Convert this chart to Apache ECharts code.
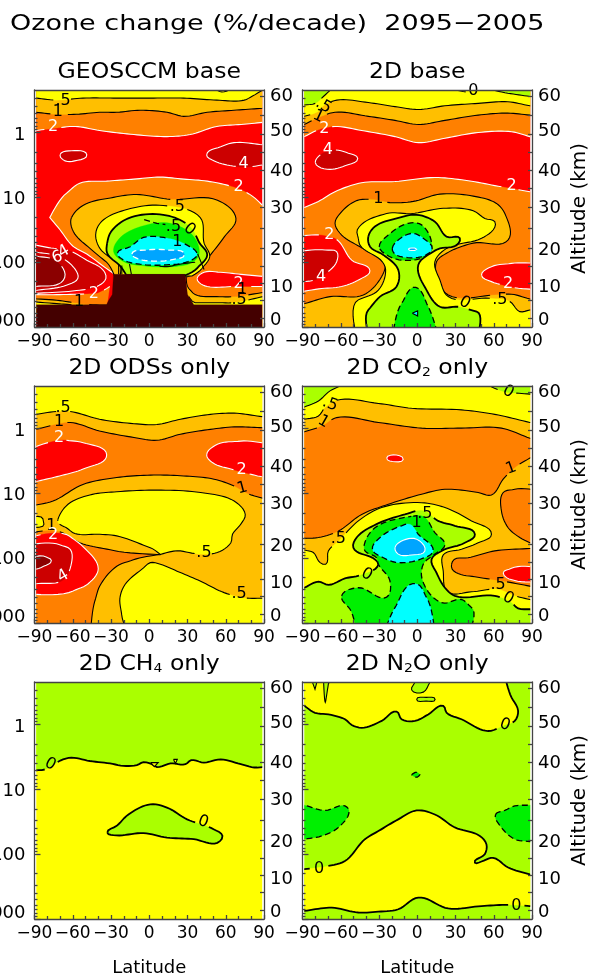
<!DOCTYPE html>
<html><head><meta charset="utf-8">
<style>html,body{margin:0;padding:0;background:#fff}#c{width:590px;height:973px}</style>
<script src="https://cdn.jsdelivr.net/npm/echarts@6/dist/echarts.min.js"></script>
</head><body><div id="c"></div>
<script>
// All contour vertices are [latitude, log-pressure height z in km]; a third element 1 marks a sharp vertex.
const COLORS={m:'#440000',x:'#8b0000',d:'#cc0000',r:'#ff0000',o:'#ff8000',a:'#ffbf00',y:'#ffff00',l:'#aaff00',g:'#00f000',c:'#00ffff',b:'#00a5ff'};
const TL=[-94,61,1],TR=[94,61,1],BL=[-94,-3,1],BR=[94,-3,1];
const LAT_TICKS=[-90,-60,-30,0,30,60,90];
const PRESSURE_LABELS=[1,10,100,1000];
const PRESSURE_LABEL_Z=[47.2,31.4,15.6,1.5];
const PRESSURE_MAJOR_Z=[48,32,16,0];
const PRESSURE_MINOR_Z=[56.4,54.4,52.8,51.5,50.5,49.5,48.7,43.2,40.4,38.4,36.8,35.5,34.4,33.5,32.7,27.2,24.4,22.4,20.8,19.5,18.4,17.5,16.7,11.2,8.4,6.4,4.8,3.5,2.4,1.5,0.7];
const KM_LABELS=[60,50,40,30,20,10,0];
const KM_LABEL_Z=[57,48.4,38.5,29.4,19,9.9,1.7];
const KM_TICK_Z=[56.9,52.3,47.7,43.2,38.8,34.3,29.6,24.4,19.5,15,10.9,6.7,2.2];

// Panel A: GEOSCCM base
const a2top=[[-89,48.5],[-75.5,49],[-58,49.5],[-39,48.5],[-12,47.5],[14,47],[32,47.5],[53,49.5],[72,50],[89,50.5]];
const a1top=[[-89,53],[-73,52.5],[-57,52.5],[-39,53],[-25.5,53],[-7,53.5],[14,53],[27,52],[45.5,53],[66.5,53.5],[89,54]];
const a5top=[[-89,56.5],[-73,56],[-52,56.5],[-25.5,56.5],[1,56.5],[27,56.5],[53,56],[74.5,56],[81,57],[89,58.5]];
const a4L=[[-70,42.5],[-61,43.5],[-49,42.5],[-58.5,41],[-66,41]];
const a4R=[[45,42.5],[56,44.5],[66.5,45.5],[89,45],[94,45,1],[94,40,1],[89,40],[77,39.5],[61,40],[51,41]];
const a2mid=[[94,30,1],[89,30],[80,32.5],[66.5,34.5],[45.5,36],[27,36.5],[8.5,37],[-12,36.5],[-33.5,36],[-54.5,35.5],[-65,33],[-78,27,1],[-70,24],[-60,20],[-49,18],[-36,15],[-27,13,1]];
const a1R=[[29,12.5,1],[31,9.5],[36,8],[53,7.5],[66.5,7.5],[89,8.5],[94,8.5,1]];
const a5R=[[31,7.5,1],[36,6],[53,6],[66.5,6],[89,7.5],[94,7.5,1]];
const a2R=[[37.5,12],[43,13.5],[56,13.5],[72,13],[89,12.5],[94,12.5,1],[94,10,1],[89,10],[66.5,10],[45.5,10],[39,11]];
const aLow4=[[-94,20.2,1],[-89,20.2],[-77,19.5],[-64,19],[-49,16.5],[-36,14],[-34,12],[-41,10],[-57,9],[-89,8.3],[-94,8.3,1]];
const aLow6=[[-94,17.5,1],[-89,17.5],[-74,16.5],[-66,13],[-69,11],[-89,10],[-94,10,1]];
const aLow5=[[-94,18.5,1],[-89,18.5],[-70,17.3],[-57,13.7],[-56,12],[-65,10.3],[-89,9],[-94,9,1]];
const a2L=[[-94,8,1],[-70,8],[-43,8.2],[-31,10,1]];
const a1L=[[-94,7,1],[-70,6.5],[-52,5.7],[-33,5.4,1]];
const a5L=[[-94,6.3,1],[-70,5.7],[-52,5.3,1]];
const aAmber=[[-61,27],[-52,30],[-28,32],[-10,32.7],[16.5,31.5],[53.5,31.3],[68,26.8],[59,22.3],[47,17.4],[37.6,13.7],[30,12.4,1],[-27,12.4,1],[-33.5,16],[-46.5,19.4],[-58.5,23],[-61.5,25.4]];
const aYellow=[[-42,23],[-37.5,26],[-17.5,29],[11,30],[40,27],[43,20.7],[47.5,17.4],[41.5,14.5],[33.5,12.6,1],[-23,12.6,1],[-23.5,15.7],[-38.7,19.4]];
const aLime=[[-33,20.7],[-30,23.5],[-16.5,26.8],[11,27.7],[32,24.8],[39.5,20.7],[45.5,17.8],[37.5,14.5],[28.5,12.8,1],[-18,12.8,1],[-23.5,15.3],[-33,18.2]];
const aGreen=[[-28,18.6],[-23,22],[-4.5,25],[16.5,25.6],[35,22.3],[39,17.8],[33.5,15.9],[19,14.9],[-4.5,15.1],[-20,16.1]];
const aCyan=[[-25,18.2],[-15,19.8],[-4.5,22.1],[11.3,22.1],[29.7,20.2],[37.6,17.9],[32.4,16.4],[11.3,15.3],[-9.7,15.6],[-20,16.5]];
const aBlue=[[-13.7,18],[-1.8,19],[14,19],[27.6,17.9],[19.2,16.7],[0.8,16.3],[-9.2,16.9]];
const aTerrain=[[-94,5.5,1],[-33.5,5.5,1],[-32,6.5,1],[-29,8,1],[-28,13,1],[28,13,1],[30,8,1],[33,6.5,1],[35,5.5,1],[94,5.5,1],BR,BL];
const aOrange=[...a2mid,[29,12.5,1],[31,9.5],[36,8],[53,7.5],[66.5,7.5],[89,8.5],[94,8.5,1]];
const panelA=[
 {c:'r',p:[BL,BR,TR,TL]},
 {c:'o',s:'w',p:[...a2top,TR,TL]},{c:'a',s:'k',p:[...a1top,TR,TL]},{c:'y',s:'k',p:[...a5top,TR,TL]},
 {s:'k',open:1,p:[[52,58.6],[57,58],[64,58.6]]},
 {c:'d',s:'w',p:a4L},{c:'d',s:'w',p:a4R},
 {c:'o',p:aOrange},{s:'w',open:1,p:a2mid},
 {c:'a',p:[...a1R,BR,[29,-3,1]]},{s:'k',open:1,p:a1R},
 {c:'y',p:[...a5R,BR,[31,-3,1]]},{s:'k',open:1,p:a5R},
 {c:'r',s:'w',p:a2R},
 {c:'o',p:[...a2L,[-33,5.4,1],...a1L.slice(0,3).reverse()]},{s:'w',open:1,p:a2L},
 {c:'a',p:[...a1L,...a5L.slice().reverse()]},{s:'k',open:1,p:a1L},
 {c:'y',p:[...a5L,[-52,3,1],[-94,3,1]]},{s:'k',open:1,p:a5L},
 {c:'d',s:'w',p:aLow4},{s:'w',p:aLow5},{c:'x',s:'w',p:aLow6},
 {c:'a',s:'k',p:aAmber},{c:'y',s:'k',p:aYellow},{c:'l',s:'K',p:aLime},{c:'g',p:aGreen},
 {c:'c',s:'d',p:aCyan},{c:'b',s:'W',p:aBlue},
 {s:'d',open:1,p:[[-4,26.5],[6,25.6],[17,25],[30,22.8]]},
 {s:'k',open:1,p:[[-24,15.4],[-24,13]]},{s:'k',open:1,p:[[-21.5,15.2],[-21.5,13]]},{s:'k',open:1,p:[[-15.5,15.5],[-14,13]]},
 {s:'k',open:1,p:[[8,15],[14,14.9],[24,15.5],[36,16]]},{s:'k',open:1,p:[[38,18],[43,14.2]]},
 {c:'m',p:aTerrain}
];
const labelsA=[[-67.6,55.9,'.5','k'],[-71.6,53,'1','k'],[-75.5,49.3,'2','w'],[74,40.2,'4','w'],[70,34.5,'2','w'],[22,29.7,'.5','k'],[19,24.6,'.5','k'],[31.6,24.1,'0','k',-40],[22,21,'1','k'],[-72,17.2,'6','w',20],[-67,18.6,'4','w',30],[-43.4,8.3,'2','w'],[-55,6.3,'1','k'],[70,10.6,'2','w'],[73,9.1,'1','k'],[70.5,6.8,'.5','k']];

// Panel B: 2D base
const bLimeTL=[[-88.5,54.8],[-80,55.2],[-73.6,56.9],[-68.4,58.4],[-66,59,1],TL,[-94,54.8,1]];
const bLimeTR=[[59.5,58.5,1],[71,57.7],[88.3,56.9],[94,56.9,1],TR];
const bHalfTop=[[-94,52,1],[-88.5,52],[-77.5,53.2],[-73.6,54.6],[-63,56],[-38.4,55.4],[-17.5,54.4],[1,53.7],[21.7,54.6],[47.8,55.2],[71,55.6],[88.3,54.6],[94,54.6,1]];
const bOneTop=[[-94,50,1],[-88.5,50],[-79,51.5],[-64.5,53],[-38.4,52],[-17.5,51],[1,50],[21.7,51],[47.8,52.3],[71,52.8],[88.3,52.3],[94,52.3,1]];
const bTwoTop=[[-94,47,1],[-88.5,47],[-77.5,48.7],[-64.5,49.5],[-43.6,48.5],[-17.5,47],[1,45.5],[21.7,46.6],[47.8,48],[74,48.2],[88.3,47],[94,47,1]];
const b4Top=[[-80,40.6],[-76,42.5],[-65.8,43.7],[-54,42.9],[-46.7,41.6],[-56.7,39.8],[-68.4,38.9],[-77.5,39.6]];
const bTwoMid=[[-94,29.5,1],[-88.5,29.5],[-77.5,31],[-64.5,33.4],[-43.6,35.6],[-17.5,35.9],[13.8,36.9],[40,36.1],[66,34.6],[88.3,33.4],[94,33.4,1]];
const bAmber=[[-94,5.8,1],[-88,5.8],[-68.4,7.5],[-42.3,7.9],[-28,12.4],[-25.3,15.7],[-29.2,17],[-44.9,19.8],[-59.3,22.7],[-64.5,25.6],[-60.6,28],[-47.5,31.2],[-35.8,31.5],[-21.4,30.7],[-3.1,31],[17.8,32.8],[43.9,32.3],[62.1,30.5],[68.7,28],[71.3,21.5],[43.9,20.7],[23,18.2],[15.1,16.1],[16.4,11.6],[24.3,7.9],[60.8,7.9],[73.9,8.1],[88.3,6.9],[94,6.9,1],BR,BL];
const bYellow=[[-46.2,21.9],[-47,24],[-24,28],[-4.4,28],[20.4,29.3],[43.9,28.7],[53,26.8],[60.8,26],[60.8,24.6],[50.4,21.9],[23,19.4],[13.8,16.1],[17.8,11.6],[24.3,7.5],[56.9,7.1],[72.6,6.3],[80.4,3.8],[88.3,4.2],[94,4.2,1],BR,[-46.7,-3,1],[-46.2,6.7],[-30.5,9.1],[-24.8,14.1],[-27.4,16.1],[-44.9,20.2]];
const bRedR=[[50.4,12.8],[58.2,14.9],[73.9,15.7],[94,15.7,1],[94,9.3,1],[71.3,10],[58.2,11.2]];
const bRedL=[[-94,22.3,1],[-72.3,22.5],[-63.2,21.6],[-51.4,16.5],[-37.1,13.9],[-44.9,11.8],[-59.3,10],[-74.9,9.5],[-94,8.5,1]];
const bDarkL=[[-94,18.6,1],[-72.3,19],[-63.2,18.6],[-63.2,16.1],[-69.7,13.7],[-77.5,12],[-94,11.2,1]];
const bLime=[[-38.4,22.3],[-33.2,24.8],[-16.2,26.8],[-0.5,27.7],[13.8,26],[23,22.3],[33.4,21.9],[30.8,20.2],[17.8,19.4],[12.5,18.6],[0.8,15.3],[7.3,9.1],[17.8,5],[32.1,5],[46.5,3.8],[46.5,-3,1],[-37,-3,1],[-38.4,4.2],[-29.2,7.5],[-16.2,10],[-14.9,14.1],[-26.6,17.8],[-37,19.8]];
const bGreen=[[-29.8,19.8],[-22.7,22.7],[-7,25.6],[3.4,25.2],[11.2,19.4],[6,17.4],[-12.3,16.5],[-24,17.8]];
const bCyan=[[-19.6,19.4],[-12.3,22.1],[-3.1,23.1],[4.7,21.9],[11.7,19.4],[4.7,17.5],[-9.7,17.2],[-17.5,18]];
const bBlue=[[-7,19.2],[-4.4,19.5],[-0.5,19.2],[-4.4,18.9]];
const bGreenLow=[[-19.3,-3,1],[-12.3,5.8],[-3.1,9.8],[0.8,9.5],[8.6,5],[17,-3,1]];
const bCyanLow=[[-3.9,3.4,1],[0.3,4,1],[0.3,2.7,1]];
const panelB=[
 {c:'r',p:[BL,BR,TR,TL]},
 {c:'o',s:'w',p:[...bTwoTop,TR,TL]},{c:'a',s:'k',p:[...bOneTop,TR,TL]},{c:'y',s:'k',p:[...bHalfTop,TR,TL]},
 {c:'l',s:'k',p:bLimeTL},{c:'l',s:'k',p:bLimeTR},{s:'k',open:1,p:[[28,58.6],[40,58],[48,58.2]]},
 {c:'d',s:'w',p:b4Top},
 {c:'o',s:'w',p:[...bTwoMid,BR,BL]},
 {c:'a',s:'k',p:bAmber},{c:'y',s:'k',p:bYellow},
 {c:'r',s:'w',p:bRedR},{c:'r',s:'w',p:bRedL},{c:'d',s:'w',p:bDarkL},
 {c:'l',s:'K',p:bLime},{c:'g',s:'d',p:bGreen},{c:'c',s:'d',p:bCyan},{c:'b',s:'w',p:bBlue},
 {c:'g',s:'d',p:bGreenLow},{c:'c',s:'k',p:bCyanLow}
];
const labelsB=[[-73.6,54.6,'.5','k',-30],[-77.5,52,'1','k',-25],[-72.8,48.8,'2','w'],[-70.2,43.7,'4','w'],[-30.5,31.6,'1','k'],[73.9,34.8,'2','w'],[-69,22.7,'2','w'],[-75.5,12.4,'4','w'],[71.3,10.6,'2','w'],[37.3,6,'0','k',-30],[64.8,6.8,'.5','k'],[44,58.2,'0','k']];

// Panel C: 2D ODSs only
const cHalfTop=[[-94,51.5,1],[-89,51.5],[-73,52.2],[-62,52.2],[-39,50.3],[-12,49.2],[6,49],[24.5,50.3],[48,51.5],[66.6,51.8],[89,50.9],[94,50.9,1]];
const cOneTop=[[-94,47.8,1],[-89,47.8],[-73,49],[-62,49.5],[-39,47.4],[-12,45.8],[6,45.1],[24.5,46.6],[48,47.8],[66.6,48.4],[89,48.2],[94,48.2,1]];
const cOneLow=[[94,30.8,1],[89,30.8],[78.4,31.8],[66.6,33.8],[50.8,35.5],[27,36.3],[1,36.5],[-25.5,35.9],[-52,34.2],[-75.5,30.1],[-89,29.1],[-94,29.1,1]];
const cOrange2=[[-94,22.2,1],[-67.6,22.2],[-54.5,19.8],[-28,17.9],[8.7,16.9,1],[-12.4,15.6],[-25.5,14],[-38.7,9.2],[-42.6,5.5],[-46,-3,1],[-94,-3,1]];
const cYellow=[[-71.6,25.6],[-63.7,29.3],[-46.6,31.6],[-25.5,32.4],[6,32.8],[40.3,32.2],[66.6,30.1],[75.3,26.8],[71.8,24.4],[65.3,21.9],[64,19.8],[53.4,17.4],[40,17],[24.5,17.8],[8.7,16.9,1],[0.8,18.6],[-25.5,21.5],[-38.7,21.9],[-58.4,22.1],[-65,23.5],[-71.6,24.8]];
const cYellowS=[[-94,26.1,1],[-83.4,25.7],[-82.6,24.4],[-94,23.7,1]];
const cYellowLow=[[-23,6.2],[-19,9.5],[-4.5,13.6],[0.8,14.9],[8.7,14.5],[21.8,12.8],[40.3,10.3],[58.7,7.5],[74.5,6.2],[89,6.1],[94,6.1,1],BR,[-16.3,-3,1],[-21.6,2]];
const cRedL=[[-94,42.9,1],[-65,45.1],[-51.8,44.5],[-33.4,41.5],[-51.8,38],[-70.3,36.3],[-89,34.9],[-94,34.9,1]];
const cRedR=[[45,41.5],[53.4,44.1],[71.8,44.9],[94,44.1,1],[94,36,1],[85,36.3],[64,38],[49.5,39.6]];
const cRedLow=[[-94,21.1,1],[-62.4,21.4],[-51.8,18.8],[-40,13.4],[-47.9,9.7],[-59.7,7.9],[-94,7.2,1]];
const cDarkLow=[[-94,19.3,1],[-70.3,19.3],[-61.8,18.1],[-61,14.8],[-67.6,10.6],[-89,9.7],[-94,9.7,1]];
const cDeepLow=[[-94,16,1],[-80.8,16.3],[-76.8,15.4],[-84.7,13.7],[-94,13.2,1]];
const panelC=[
 {c:'a',p:[BL,BR,TR,TL]},
 {c:'o',s:'k',p:[...cOneTop,...cOneLow]},
 {c:'y',s:'k',p:[...cHalfTop,TR,TL]},
 {c:'o',s:'k',p:cOrange2},
 {c:'y',s:'k',p:cYellow},{c:'y',s:'k',p:cYellowS},{c:'y',s:'k',p:cYellowLow},
 {c:'r',s:'w',p:cRedL},{c:'r',s:'w',p:cRedR},{c:'r',s:'w',p:cRedLow},{c:'d',s:'w',p:cDarkLow},{c:'x',s:'w',p:cDeepLow}
];
const labelsC=[[-67.6,53,'.5','k'],[-70.8,49.7,'1','k'],[-70.8,45.6,'2','w'],[72.4,37.7,'2','w'],[73,33.3,'1','k',15],[-76.8,24,'1','k'],[-75.5,21.7,'2','w'],[-67.6,11.6,'4','w',30],[42.9,17.4,'.5','k'],[70.5,7.2,'.5','k']];

// Panel D: 2D CO2 only
const dLimeTL=[[-94,53.3,1],[-88.5,53.3],[-77.5,54.8],[-68.4,57.3],[-61.9,58.3],[-58,60,1],TL];
const dLimeTR=[[58.2,58.3,1],[71.3,56.9],[88.3,56.5],[94,56.5,1],TR];
const dHalfTop=[[-94,50.3,1],[-88.5,50.3],[-77.5,51.1],[-72.3,53.2],[-63.2,55],[-30.5,54.2],[-4.4,53],[34.7,52.6],[60.8,51.5],[88.3,49.5],[94,49.5,1]];
const dOneTop=[[-94,47.2,1],[-88.5,47.2],[-74.9,48.6],[-63.2,50.7],[-30.5,49.5],[3.4,48.1],[34.7,48.1],[66,48.1],[88.3,45.6],[94,45.6,1]];
const dOneLow=[[94,40.7,1],[88.3,40.7],[76.5,38.4],[67.4,35.5],[58.2,31.6],[47.8,32.2],[21.7,33],[3.4,31.8],[-22.7,29.3],[-43.6,26.8],[-61.9,22.7],[-77.5,21.1],[-88.5,20.9],[-94,20.9,1]];
const dYellow=[[-94,18,1],[-88.5,18],[-81.5,17.4],[-76.2,14.9],[-71.8,14.5],[-69.7,17.8],[-61.9,20.2],[-46.2,25.2],[-27.9,28.5],[3.4,29.7],[21.7,28.5],[42.6,25.2],[58.2,21.9],[47.8,19.8],[34.7,18.2],[20.4,16.8],[20.4,12.8],[23.8,7.7],[42.6,7.7],[63.4,8.3],[76.5,6.7],[88.3,5.8],[94,5.8,1],BR,BL];
const dOrangeR=[[94,32.8,1],[76.5,33],[67.4,32.2],[66,27.7],[71.3,23.5],[80.4,21.1],[88.3,19.8],[94,19.8,1]];
const dOrangeLow=[[26.9,14.5],[29,15.7],[39.9,16.1],[60.8,17.8],[88.3,18.4],[94,18.4,1],[94,9,1],[88.3,9.1],[66,10.4],[45.2,11.4],[32.1,12.2],[27.4,13.3]];
const dRed=[[67.4,12.4],[73.9,13.5],[94,13.7,1],[94,10.2,1],[76.5,10.5],[70,11.2]];
const dRedTiny=[[-24,40.7],[-18.8,41.5],[-11,40.4],[-17.5,39.8]];
const dLime=[[-94,8.7,1],[-88.5,8.7],[-77.5,10.2],[-69.7,9.4],[-56.7,11],[-43.6,11.9],[-30.5,14.5],[-33.2,15.7],[-50.1,18.6],[-47.5,21.1],[-31.9,24.4],[-9.7,26.8],[4.7,27.7],[16.4,25.2],[29.5,24],[45.2,21.9],[37.3,19.8],[19.1,17.8],[11.2,15.7],[15.1,12.4],[21.7,8.7],[29.5,6.7],[60.8,6.7],[73.9,5],[79.1,3.6],[88.3,3.4],[94,3.4,1],BR,BL];
const dGreen=[[-59.3,6.7],[-46.2,8.7],[-24,6.4],[-21.4,10.4],[-30.5,14.5],[-31.9,16.1],[-41,17.8],[-41.5,19.4],[-33.2,23.5],[-7,26.2],[4.7,26.3],[13.8,22.3],[21.7,19.3],[13.8,17],[4.7,14.5],[4.2,10.4],[19.1,5],[34.7,5.8],[42.6,3.8],[39.9,-3,1],[-47.5,-3,1],[-52.7,3.4]];
const dCyan=[[-35.2,18.2],[-29.2,21.1],[-12.3,24],[-5.7,24.4],[0.8,21.9],[12.5,17.8],[4.7,16],[-14.9,14.9],[-26.6,16.1]];
const dBlue=[[-17.5,18.6],[-11,20.4],[-0.5,20.7],[6,17.8],[-4.4,16.8],[-14.9,17]];
const dCyanLow=[[-26.6,-3,1],[-17.5,3.8],[-5.7,9.5],[0.8,9.5],[7.3,6.3],[13.8,-3,1]];
const panelD=[
 {c:'a',p:[BL,BR,TR,TL]},
 {c:'y',s:'k',p:[...dHalfTop,TR,TL]},{c:'l',s:'k',p:dLimeTL},{c:'l',s:'k',p:dLimeTR},
 {c:'o',s:'k',p:[...dOneTop,...dOneLow]},
 {c:'y',s:'k',p:dYellow},
 {c:'o',s:'k',p:dOrangeR},{c:'o',s:'k',p:dOrangeLow},
 {c:'r',s:'w',p:dRed},{c:'r',s:'w',p:dRedTiny},
 {c:'l',s:'K',p:dLime},{c:'g',s:'d',p:dGreen},{c:'c',s:'d',p:dCyan},{c:'b',s:'w',p:dBlue},{c:'c',s:'d',p:dCyanLow}
];
const labelsD=[[-68.4,54,'.5','k',-20],[-73.6,49.7,'1','k',-30],[73.6,38.2,'1','k',20],[-61.9,20.7,'.5','k'],[6,27,'.5','k'],[-0.5,24.8,'1','k'],[-39.7,12,'0','k',-30],[63.4,9.5,'.5','k'],[71.3,6.1,'0','k',-30],[71.3,57.1,'0','k',-30]];

// Panel E: 2D CH4 only
const eTop=[[-94,36.7,1],[-89,36.7],[-82,36.9],[-67.6,39.4],[-61,39.8],[-46.6,39],[-30.8,38.4],[-20.3,37.8],[-9.7,38],[-4.5,38.7],[2.1,38.2],[6,37.5],[16.6,38.4],[28.4,38.2],[32.9,39.2],[42.9,38.6],[56,39.4],[71.8,38.2],[82.4,37.4],[89,37.5],[94,37.5,1]];
const eMid=[[-32.9,21.3],[-25.5,23],[-16.3,25.8],[0.8,28.3],[13.9,27.5],[29.7,24.6],[50.8,22.1],[57.4,20.5],[53.4,18.8],[35,19.7],[13.9,20.1],[-4.5,21.2],[-28.2,20.7]];
const eTiny=[[1,38.6,1],[7,38.6,1],[4,37.6,1]];
const eDot=[[19,39.4,1],[22,39.4,1],[20.5,38.4,1]];
const panelE=[
 {c:'y',p:[BL,BR,TR,TL]},
 {c:'l',s:'K',p:[...eTop,TR,TL]},{c:'l',s:'K',p:eMid},{c:'y',s:'k',p:eTiny},{c:'y',s:'k',p:eDot}
];
const labelsE=[[-77.6,38.2,'0','k',-30],[42.4,24,'0','k',-20]];

// Panel F: 2D N2O only
const fTop=[[-94,52.6,1],[-88.5,52.6],[-80.2,50.9],[-69.7,50.5],[-56.7,49.3],[-51.4,47.9],[-43.6,47.2],[-27.9,48.9],[-16.2,51.2],[-12.3,49.3],[-1.8,48.9],[8.6,50.5],[20.4,52.6],[23,50.9],[34.7,49.3],[55.6,46.4],[68.7,47.9],[76.5,48.9],[79.1,51.4],[73.9,54.7],[68.7,60,1],TL];
const fBit1=[[-84,60,1],[-80.2,56.7],[-77.5,60,1]];
const fBit2=[[-73.6,60,1],[-71.8,53.8],[-69.7,58],[-64.5,60,1]];
const fBit3=[[-4.4,56.5],[4.7,56],[9.9,58.4],[10,60,1],[-1.8,60,1],[-1.8,58.4]];
const fBit4=[[-0.5,54.2],[7,54.7],[14,54.2],[7,53.8]];
const fGreenTiny=[[-4.4,35.6,1],[0,36.2],[2,35.6],[0,35]];
const fGreenL=[[-94,28.1,1],[-88.5,28.1],[-72.3,26.8],[-56.7,27.9],[-53.5,26.7],[-61.9,22.6],[-74.9,20.5],[-88.5,19.7],[-94,19.7,1]];
const fGreenR=[[61.4,25.8],[68.7,26.8],[76.5,27.9],[88.3,28.1],[94,28.1,1],[94,19.1,1],[88.3,19.1],[76.5,19.7],[66,22.6]];
const fYellow=[[-94,12.3,1],[-88.5,12.3],[-69.7,13.1],[-56.7,14.3],[-41,19.7],[-30.5,21.7],[-14.9,24.6],[-0.5,26.8],[13.8,25.8],[29.5,22.6],[49.1,20.5],[54.3,18.4],[53,16],[45.2,13.9],[50.4,14.2],[59.5,15.1],[71.3,12.7],[88.3,11],[94,11,1],[94,3.2,1],[88.3,3.2],[71.3,3.5],[50.4,3.2],[24.3,2.6],[0.8,5.3],[-14.9,2.4],[-30.5,1.8],[-46.2,1.6],[-67,2.8],[-88.5,2],[-94,2,1]];
const panelF=[
 {c:'l',p:[BL,BR,TR,TL]},
 {c:'y',s:'K',p:fTop},{c:'l',s:'k',p:fBit1},{c:'l',s:'k',p:fBit2},{c:'l',s:'k',p:fBit3},{c:'l',s:'k',p:fBit4},
 {c:'g',s:'d',p:fGreenTiny},{c:'g',s:'d',p:fGreenL},{c:'g',s:'d',p:fGreenR},
 {c:'y',s:'K',p:fYellow}
];
const labelsF=[[-77,12.5,'0','k'],[77.8,3.2,'0','k'],[68.7,47.9,'0','k',-20]];

const MAIN_TITLE='Ozone change (%/decade)  2095\u22122005';
const TITLES=['GEOSCCM base','2D base','2D ODSs only','2D CO{s|2} only','2D CH{s|4} only','2D N{s|2}O only'];
const PANELS=[panelA,panelB,panelC,panelD,panelE,panelF];
const LABELS=[labelsA,labelsB,labelsC,labelsD,labelsE,labelsF];
const GRID_X=[34.5,302.5],GRID_Y=[90,386,682],GRID_W=229.5,GRID_H=237;
const FONT='"DejaVu Sans"';
const STROKES={k:{stroke:'#000',lineWidth:1.1},K:{stroke:'#000',lineWidth:1.8},w:{stroke:'#fff',lineWidth:1.1},d:{stroke:'#000',lineWidth:1.3,lineDash:[6,3.5]},W:{stroke:'#fff',lineWidth:1.3,lineDash:[6,3.5]}};

function dirAt(P,i,closed){
 const n=P.length,a=P[i];
 if(a[2])return null;
 const pv=closed?P[(i-1+n)%n]:P[i-1], nx=closed?P[(i+1)%n]:P[i+1];
 const unit=(u,v)=>{const dx=v[0]-u[0],dy=v[1]-u[1],d=Math.hypot(dx,dy)||1;return[dx/d,dy/d]};
 const usePrev=pv&&!pv[2], useNext=nx&&!nx[2];
 if(usePrev&&useNext){const u=unit(pv,a),v=unit(a,nx);const x=u[0]+v[0],y=u[1]+v[1],d=Math.hypot(x,y)||1;return[x/d,y/d]}
 if(usePrev)return unit(pv,a);
 if(useNext)return unit(a,nx);
 return null;
}
function spline(P,closed){
 const out=[],n=P.length,last=closed?n:n-1;
 for(let i=0;i<last;i++){
  const a=P[i],b=P[(i+1)%n],da=dirAt(P,i,closed),db=dirAt(P,(i+1)%n,closed),d=Math.hypot(b[0]-a[0],b[1]-a[1]);
  const c1=da?[a[0]+da[0]*d*0.33,a[1]+da[1]*d*0.33]:a, c2=db?[b[0]-db[0]*d*0.33,b[1]-db[1]*d*0.33]:b;
  const steps=Math.max(2,Math.min(10,Math.ceil(d/3)));
  for(let k=0;k<steps;k++){const t=k/steps,u=1-t;
   out.push([u*u*u*a[0]+3*u*u*t*c1[0]+3*u*t*t*c2[0]+t*t*t*b[0],u*u*u*a[1]+3*u*u*t*c1[1]+3*u*t*t*c2[1]+t*t*t*b[1]]);}
 }
 if(closed)out.push(out[0].slice());else out.push(P[n-1].slice(0,2));
 return out;
}
function layerRender(idx){
 const layers=PANELS[idx], labels=LABELS[idx];
 return function(params,api){
  const L=layers[api.value(0)];
  const px=L.p.map(q=>{const c=api.coord([q[0],q[1]]);return[c[0],c[1],q[2]]});
  const line=spline(px,!L.open);
  const lb=labels.map(t=>api.coord([t[0],t[1]]));
  const children=[];
  if(L.c)children.push({type:'polygon',shape:{points:line},style:{fill:COLORS[L.c],stroke:COLORS[L.c],lineWidth:0.3}});
  if(L.s){
   let cur=[];
   const flush=()=>{if(cur.length>1)children.push({type:'polyline',shape:{points:cur},style:Object.assign({fill:null},STROKES[L.s])});cur=[]};
   line.forEach(q=>{if(lb.some(c=>Math.hypot(c[0]-q[0],c[1]-q[1])<7.5))flush();else cur.push(q)});flush();
  }
  const c0=api.coord([-88.6,58.5]),c1=api.coord([88.6,0]);
  return{type:'group',children,clipPath:{type:'rect',shape:{x:c0[0],y:c0[1],width:c1[0]-c0[0],height:c1[1]-c0[1]}}};
 };
}
function labelRender(idx){
 const labels=LABELS[idx];
 return function(params,api){
  const t=labels[api.value(0)],c=api.coord([t[0],t[1]]);
  return{type:'text',x:c[0],y:c[1],rotation:(t[4]||0)*Math.PI/180,style:{text:t[2],x:0,y:0,fill:t[3]==='w'?'#fff':'#000',font:'16px '+FONT,align:'center',verticalAlign:'middle'}};
 };
}
const grids=[],xAxes=[],yAxes=[],series=[],texts=[];
const lineStyle={color:'#444',width:1.3};
const titleFont='22px '+FONT;
texts.push({type:'text',x:10,y:24,scaleX:1.228,style:{text:MAIN_TITLE,font:titleFont,fill:'#000',align:'left',verticalAlign:'middle'}});
PANELS.forEach((layers,i)=>{
 const col=i%2,row=Math.floor(i/2),g=grids.length;
 grids.push({left:GRID_X[col],top:GRID_Y[row],width:GRID_W,height:GRID_H,outerBoundsMode:'none'});
 const xi=xAxes.length,yi=yAxes.length;
 xAxes.push({gridIndex:g,type:'value',position:'bottom',min:-90,max:90,interval:30,z:5,
  axisLine:{lineStyle,onZero:false},splitLine:{show:false},
  axisTick:{show:true,inside:true,length:4,lineStyle},minorTick:{show:true,splitNumber:3,length:3,lineStyle},
  axisLabel:{customValues:LAT_TICKS,margin:6,fontFamily:FONT,fontSize:17,color:'#000',hideOverlap:false,formatter:v=>String(v).replace('-','\u2212')},
  name:row===2?'Latitude':'',nameLocation:'middle',nameGap:40,nameTextStyle:{fontFamily:FONT,fontSize:18,color:'#000'}});
 xAxes.push({gridIndex:g,type:'value',position:'top',min:-90,max:90,z:5,axisLine:{lineStyle,onZero:false},axisTick:{show:false},axisLabel:{show:false},splitLine:{show:false}});
 yAxes.push({gridIndex:g,type:'value',position:'left',min:0,max:58.5,z:5,
  axisLine:{lineStyle,onZero:false},splitLine:{show:false},
  axisTick:{show:true,inside:true,length:6,lineStyle,customValues:PRESSURE_MAJOR_Z},
  axisLabel:col===0?{customValues:PRESSURE_LABEL_Z,margin:9,fontFamily:FONT,fontSize:18,color:'#000',hideOverlap:false,showMinLabel:true,showMaxLabel:true,formatter:v=>String(PRESSURE_LABELS[PRESSURE_LABEL_Z.indexOf(v)])}:{show:false}});
 yAxes.push({gridIndex:g,type:'value',position:'left',min:0,max:58.5,z:5,
  axisLine:{show:false,onZero:false},splitLine:{show:false},axisLabel:{show:false},
  axisTick:{show:true,inside:true,length:3,lineStyle,customValues:PRESSURE_MINOR_Z}});
 yAxes.push({gridIndex:g,type:'value',position:'right',min:0,max:58.5,z:5,
  axisLine:{lineStyle,onZero:false},splitLine:{show:false},
  axisTick:{show:true,inside:true,length:4,lineStyle,customValues:KM_TICK_Z},
  axisLabel:{customValues:KM_LABEL_Z,margin:6,fontFamily:FONT,fontSize:18,color:'#000',hideOverlap:false,formatter:v=>String(KM_LABELS[KM_LABEL_Z.indexOf(v)])},
  name:col===1?'Altitude (km)':'',nameLocation:'middle',nameRotate:90,nameGap:38,nameTextStyle:{fontFamily:FONT,fontSize:20,color:'#000'}});
 series.push({type:'custom',xAxisIndex:xi,yAxisIndex:yi,coordinateSystem:'cartesian2d',silent:true,z:2,renderItem:layerRender(i),data:layers.map((_,k)=>[k,0]),encode:{x:1,y:1},animation:false});
 series.push({type:'custom',xAxisIndex:xi,yAxisIndex:yi,coordinateSystem:'cartesian2d',silent:true,z:3,renderItem:labelRender(i),data:LABELS[i].map((_,k)=>[k,0]),encode:{x:1,y:1},animation:false});
 texts.push({type:'text',x:GRID_X[col]+GRID_W/2,y:GRID_Y[row]-18,scaleX:1.07,style:{text:TITLES[i],font:titleFont,fill:'#000',align:'center',verticalAlign:'middle',rich:{s:{font:'13px '+FONT,fill:'#000',padding:[9,0,0,0]}}}});
});
const chart=echarts.init(document.getElementById('c'),null,{renderer:'canvas',width:590,height:973});
chart.setOption({animation:false,backgroundColor:'#fff',graphic:{elements:texts},grid:grids,xAxis:xAxes,yAxis:yAxes,series});
</script></body></html>
